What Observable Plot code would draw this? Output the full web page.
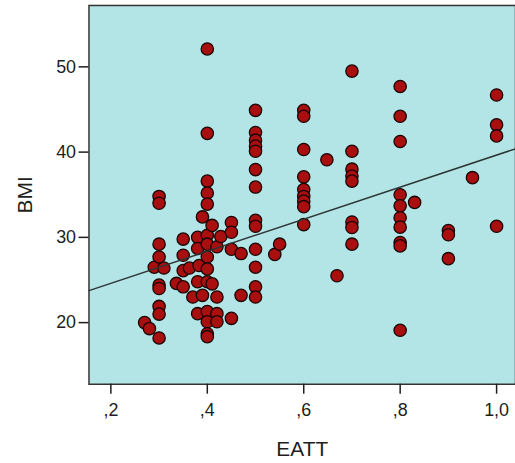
<!DOCTYPE html>
<html><head><meta charset="utf-8">
<script src="https://cdn.jsdelivr.net/npm/d3@7"></script>
<script src="https://cdn.jsdelivr.net/npm/@observablehq/plot@0.6"></script>
<style>html,body{margin:0;padding:0;background:#fff;overflow:hidden} svg{display:block}</style>
</head><body><div id="chart"></div>
<script>
// EATT (x) and BMI (y) for each case
const eatt = [0.27,0.28,0.29,0.31,0.30,0.30,0.30,0.30,0.30,0.30,0.30,0.30,0.30,
  0.336,0.35,0.35,0.35,0.35,0.363,0.37,0.38,0.38,0.383,0.38,0.38,0.39,0.39,
  0.40,0.40,0.40,0.40,0.40,0.40,0.40,0.40,0.40,0.40,0.40,0.40,0.40,0.40,
  0.41,0.41,0.42,0.42,0.42,0.42,0.428,0.45,0.45,0.45,0.45,0.47,0.47,
  0.50,0.50,0.50,0.50,0.50,0.50,0.50,0.50,0.50,0.50,0.50,0.50,0.50,
  0.54,0.55,0.60,0.60,0.60,0.60,0.60,0.60,0.60,0.60,0.60,0.648,0.669,
  0.70,0.70,0.70,0.70,0.70,0.70,0.70,0.70,
  0.80,0.80,0.80,0.80,0.80,0.80,0.80,0.80,0.80,0.80,0.83,
  0.90,0.90,0.90,0.95,1.00,1.00,1.00,1.00];
const bmi = [20.0,19.3,26.5,26.4,34.8,34.0,29.2,27.7,24.4,24.0,21.9,21.0,18.2,
  24.6,29.8,27.9,26.1,24.2,26.4,23.0,30.0,28.7,26.7,24.8,21.05,23.2,32.4,
  52.1,42.2,36.6,35.2,33.9,30.25,29.2,27.7,26.3,24.8,21.3,20.1,18.7,18.35,
  31.4,24.55,28.9,23.0,21.05,20.1,30.1,31.75,30.6,28.6,20.5,28.1,23.2,
  44.9,42.3,41.4,40.7,40.1,37.95,35.9,32.0,31.3,28.6,26.5,24.2,23.0,
  28.0,29.2,44.9,44.2,40.3,37.1,35.6,34.8,34.25,33.6,31.5,39.1,25.5,
  49.5,40.1,38.0,37.2,36.6,31.8,31.15,29.2,
  47.7,44.2,41.25,35.0,33.7,32.3,31.2,29.4,29.0,19.1,34.1,
  30.8,30.3,27.5,37.0,46.7,43.2,41.9,31.3];

const xTicks = [0.2, 0.4, 0.6, 0.8, 1.0];
const xTickLabels = [",2", ",4", ",6", ",8", "1,0"];
const yTicks = [20, 30, 40, 50];
const xDomain = [0.1546, 1.0392];
const yDomain = [12.77, 57.2];
const regIntercept = 20.85;
const regSlope = 18.8;
const xLabel = "EATT";
const yLabel = "BMI";

const points = eatt.map((x, i) => ({x, y: bmi[i]}));
const fit = xDomain.map(x => ({x, y: regIntercept + regSlope * x}));

const chart = Plot.plot({
  width: 518, height: 463,
  marginTop: 5, marginBottom: 77, marginLeft: 89, marginRight: 0,
  style: {fontFamily: "'Liberation Sans', Arial, sans-serif", fontSize: "18px", background: "#fff", color: "#1e1e1e"},
  x: {domain: xDomain},
  y: {domain: yDomain},
  marks: [
    Plot.frame({fill: "#b3e5e6", stroke: "none"}),
    Plot.dot(points, {x: "x", y: "y", r: 6.2, fill: "#a90f0f", stroke: "#1a0505", strokeWidth: 1.3}),
    Plot.line(fit, {x: "x", y: "y", stroke: "#2f3535", strokeWidth: 1.5}),
    Plot.frame({stroke: "#333", strokeWidth: 1.5}),
    Plot.axisX({ticks: xTicks, tickFormat: d => xTickLabels[xTicks.indexOf(d)], tickSize: 10, tickPadding: 9, strokeWidth: 1.5, label: null}),
    Plot.axisY({ticks: yTicks, tickSize: 10, tickPadding: 3, strokeWidth: 1.5, label: null}),
    Plot.text([yLabel], {text: d => d, frameAnchor: "left", dx: -64, rotate: -90, textAnchor: "middle", lineAnchor: "middle", fontSize: 21}),
    Plot.text([xLabel], {text: d => d, frameAnchor: "bottom", dy: 65, textAnchor: "middle", lineAnchor: "middle", fontSize: 21})
  ]
});
document.getElementById("chart").appendChild(chart);
</script>
</body></html>
